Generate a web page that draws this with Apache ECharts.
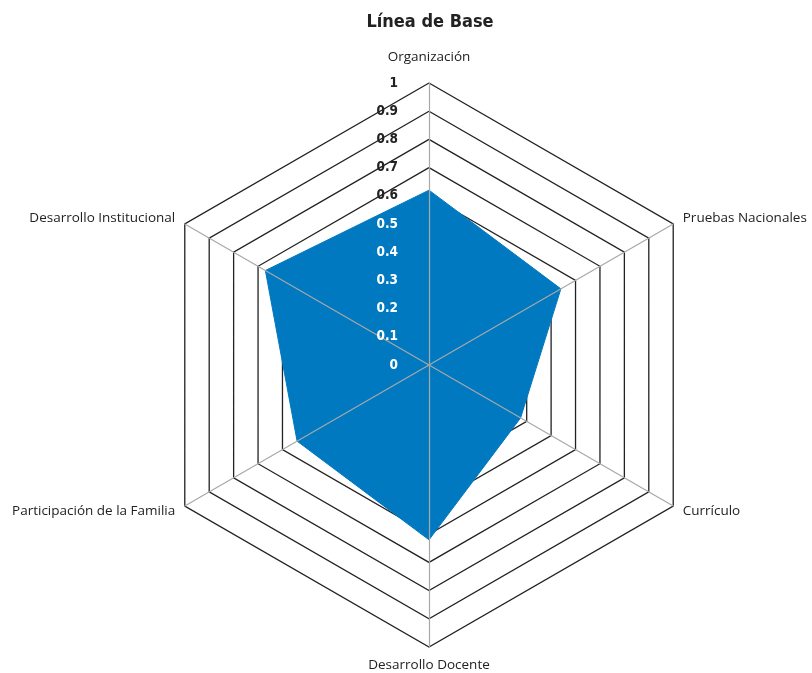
<!DOCTYPE html>
<html><head><meta charset="utf-8">
<script src="https://cdn.jsdelivr.net/npm/echarts@6/dist/echarts.min.js"></script>
<style>html,body{margin:0;padding:0;background:#fff}#c{width:812px;height:673px}</style>
</head><body><div id="c"></div>
<script>
const titleText = 'Línea de Base';
// indicators listed counterclockwise from top (ECharts order)
const categories = ['Organización','Desarrollo Institucional','Participación de la Familia','Desarrollo Docente','Currículo','Pruebas Nacionales'];
const values = [0.62, 0.67, 0.54, 0.62, 0.375, 0.54];
const maxValue = 1;

const condensed = "'Liberation Sans Narrow','Arial Narrow','DejaVu Sans Condensed','Roboto Condensed','Open Sans',sans-serif";
const chart = echarts.init(document.getElementById('c'));
const center = [429, 365];
const radius = 282;
const indicator = categories.map(n=>({name:n, max:maxValue, min:0}));
const indicator2 = categories.map((n,i)=> i===0 ? {name:n, max:maxValue, min:0, axisLabel:{show:true}} : {name:n, max:maxValue, min:0});
chart.setOption({
  animation:false,
  title:{text:titleText,left:425,textAlign:'center',top:8,textStyle:{fontFamily:condensed,fontWeight:'bold',fontSize:18,color:'#222'}},
  radar:[{
    center:center,radius:radius,shape:'polygon',splitNumber:10,
    indicator:indicator,
    axisName:{color:'#222',fontFamily:'Open Sans',fontSize:13.5,
      formatter:function(n){return n===categories[0]?'{t|'+n+'}':n;},
      rich:{t:{fontFamily:'Open Sans',fontSize:13.5,color:'#222',padding:[0,0,8,0]}}},
    nameGap:11,
    axisLine:{show:false},
    splitLine:{lineStyle:{color:'#222',width:1.3}},
    splitArea:{show:false},
    axisLabel:{show:false},
    axisTick:{show:false}
  },{
    center:center,radius:radius,shape:'polygon',splitNumber:10,z:5,
    indicator:indicator2,
    axisName:{show:false},
    axisLine:{lineStyle:{color:'#a8a8a8',width:1.2}},
    splitLine:{show:false},
    splitArea:{show:false},
    axisTick:{show:false},
    axisLabel:{show:false,margin:31,
      formatter:function(v){const s=String(Math.round(v*10)/10);return v<=0.5?'{w|'+s+'}':'{b|'+s+'}';},
      rich:{w:{color:'#fff',fontFamily:condensed,fontWeight:'bold',fontSize:13.5},
            b:{color:'#222',fontFamily:condensed,fontWeight:'bold',fontSize:13.5}}}
  }],
  series:[{
    type:'radar',radarIndex:0,symbol:'none',z:2,
    lineStyle:{color:'#0079c1',width:1},
    areaStyle:{color:'#0079c1',opacity:1},
    data:[{value:values,name:titleText}]
  }]
});
</script></body></html>
